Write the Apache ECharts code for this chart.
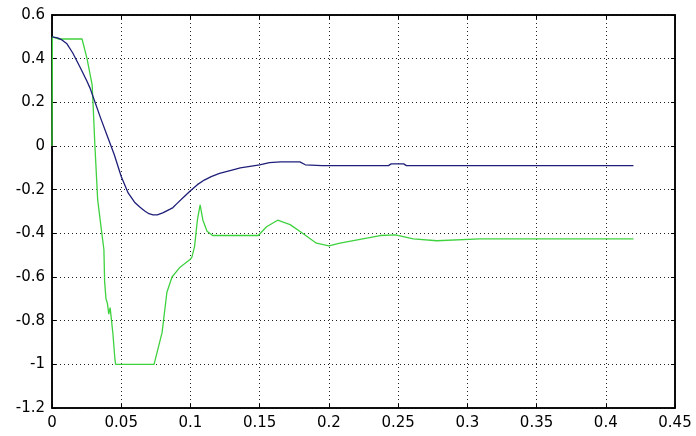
<!DOCTYPE html>
<html>
<head>
<meta charset="utf-8">
<script src="https://cdn.jsdelivr.net/npm/echarts@6/dist/echarts.min.js"></script>
<style>
html,body{margin:0;padding:0;background:#fff;}
#c{width:696px;height:436px;}
</style>
</head>
<body>
<div id="c"></div>
<script>
var xTickLabels = ["0","0.05","0.1","0.15","0.2","0.25","0.3","0.35","0.4","0.45"];
var yTickLabels = ["-1.2","-1","-0.8","-0.6","-0.4","-0.2","0","0.2","0.4","0.6"];

var blueT = [0,0.004,0.0072,0.0108,0.015,0.0202,0.025,0.0275,0.03,0.035,0.04,0.045,0.05,0.055,0.06,0.0636,0.067,0.07,0.073,0.076,0.08,0.085,0.0874,0.09,0.095,0.1,0.105,0.11,0.115,0.121,0.13,0.136,0.143,0.15,0.157,0.165,0.179,0.183,0.195,0.243,0.245,0.254,0.256,0.42];
var blueY = [0.5,0.495,0.486,0.468,0.426,0.362,0.30,0.265,0.22,0.13,0.045,-0.04,-0.14,-0.215,-0.26,-0.281,-0.298,-0.31,-0.315,-0.315,-0.306,-0.29,-0.282,-0.265,-0.235,-0.205,-0.177,-0.156,-0.14,-0.125,-0.11,-0.10,-0.093,-0.086,-0.076,-0.073,-0.073,-0.086,-0.09,-0.09,-0.082,-0.082,-0.09,-0.09];

var greenT = [0,0.0003,0.005,0.0217,0.0253,0.029,0.0296,0.031,0.033,0.036,0.0375,0.038,0.039,0.04,0.041,0.042,0.043,0.044,0.0455,0.046,0.0737,0.0795,0.083,0.0867,0.0925,0.0997,0.101,0.103,0.105,0.107,0.109,0.112,0.116,0.149,0.155,0.163,0.172,0.181,0.191,0.2,0.208,0.237,0.248,0.261,0.278,0.309,0.42];
var greenY = [0,0.5,0.49,0.49,0.40,0.28,0.2,0.0,-0.247,-0.40,-0.475,-0.62,-0.70,-0.72,-0.77,-0.74,-0.80,-0.86,-0.98,-1.0,-1.0,-0.855,-0.67,-0.60,-0.555,-0.52,-0.51,-0.46,-0.34,-0.27,-0.34,-0.39,-0.41,-0.41,-0.37,-0.34,-0.36,-0.40,-0.445,-0.457,-0.445,-0.41,-0.407,-0.425,-0.434,-0.425,-0.425];

function zip(a, b){ var r=[]; for(var i=0;i<a.length;i++) r.push([a[i], b[i]]); return r; }

var chart = echarts.init(document.getElementById('c'), null, {renderer:'canvas'});
var labelFont = {color:'#000', fontFamily:'DejaVu Sans', fontSize:15};
var tickStyle = {show:true, inside:true, length:4, lineStyle:{color:'#000', width:1}};
var splitStyle = {show:true, lineStyle:{color:'#222', width:1, type:[1,3]}};

chart.setOption({
  animation:false,
  backgroundColor:'#fff',
  grid:{left:52, right:21, top:15, bottom:28, show:true, borderColor:'#000', borderWidth:1.5, containLabel:false},
  xAxis:[{
    type:'value', min:0, max:0.45, interval:0.05, position:'bottom',
    axisLine:{show:true, onZero:false, lineStyle:{color:'#000', width:1.5}},
    axisTick:tickStyle,
    axisLabel:Object.assign({margin:8, formatter:function(v){ return xTickLabels[Math.round(v/0.05)]; }}, labelFont),
    splitLine:splitStyle
  },{
    type:'value', min:0, max:0.45, interval:0.05, position:'top',
    axisLine:{show:true, onZero:false, lineStyle:{color:'#000', width:1.5}},
    axisTick:tickStyle, axisLabel:{show:false}, splitLine:{show:false}
  }],
  yAxis:[{
    type:'value', min:-1.2, max:0.6, interval:0.2, position:'left',
    axisLine:{show:true, onZero:false, lineStyle:{color:'#000', width:1.5}},
    axisTick:tickStyle,
    axisLabel:Object.assign({margin:7, formatter:function(v){ return yTickLabels[Math.round((v+1.2)/0.2)]; }}, labelFont),
    splitLine:splitStyle
  },{
    type:'value', min:-1.2, max:0.6, interval:0.2, position:'right',
    axisLine:{show:true, onZero:false, lineStyle:{color:'#000', width:1.5}},
    axisTick:tickStyle, axisLabel:{show:false}, splitLine:{show:false}
  }],
  series:[{
    type:'line', name:'green', data:zip(greenT, greenY), showSymbol:false, symbol:'none',
    lineStyle:{color:'#3fd23f', width:1.3}, z:3
  },{
    type:'line', name:'blue', data:zip(blueT, blueY), showSymbol:false, symbol:'none',
    lineStyle:{color:'#1f1f7a', width:1.3}, z:4
  }]
});
</script>
</body>
</html>
